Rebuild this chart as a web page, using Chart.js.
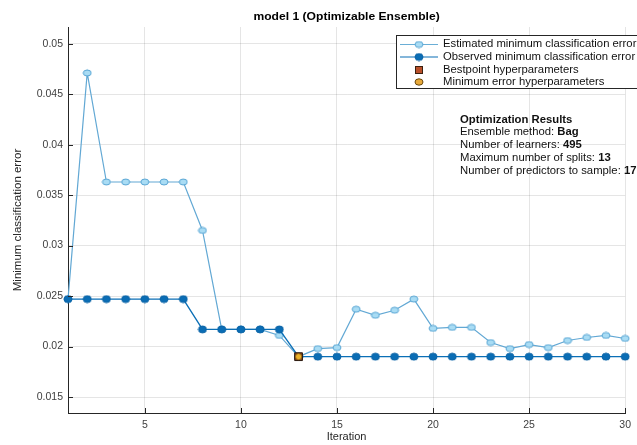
<!DOCTYPE html>
<html>
<head>
<meta charset="utf-8">
<script src="https://cdn.jsdelivr.net/npm/chart.js@4/dist/chart.umd.min.js"></script>
<style>
  body { margin: 0; background: #fff; }
  canvas { display: block; }
</style>
</head>
<body>
<canvas id="myChart" width="637" height="445"></canvas>
<script>
const iterations = [1, 2, 3, 4, 5, 6, 7, 8, 9, 10, 11, 12, 13, 14, 15, 16, 17, 18, 19, 20, 21, 22, 23, 24, 25, 26, 27, 28, 29, 30];
const estimatedMin = [0.0247, 0.0471, 0.0363, 0.0363, 0.0363, 0.0363, 0.0363, 0.0315, 0.0217, 0.0217,
  0.0217, 0.0211, 0.0190, 0.0198, 0.0199, 0.0237, 0.0231, 0.0236, 0.0247, 0.0218,
  0.0219, 0.0219, 0.0204, 0.0198, 0.0202, 0.0199, 0.0206, 0.0209, 0.0211, 0.0208];
const observedMin = [0.0247, 0.0247, 0.0247, 0.0247, 0.0247, 0.0247, 0.0247, 0.0217, 0.0217, 0.0217,
  0.0217, 0.0217, 0.0190, 0.0190, 0.0190, 0.0190, 0.0190, 0.0190, 0.0190, 0.0190,
  0.0190, 0.0190, 0.0190, 0.0190, 0.0190, 0.0190, 0.0190, 0.0190, 0.0190, 0.0190];
const bestPoint = [13, 0.0190];
const minErrorPoint = [13, 0.0190];
const xTicks = [5, 10, 15, 20, 25, 30];
const yTicks = [0.015, 0.02, 0.025, 0.03, 0.035, 0.04, 0.045, 0.05];

const chartTitle = 'model 1 (Optimizable Ensemble)';
const legendLabels = ['Estimated minimum classification error', 'Observed minimum classification error',
  'Bestpoint hyperparameters', 'Minimum error hyperparameters'];
const resultLines = [
  ['Optimization Results', ''],
  ['Ensemble method: ', 'Bag'],
  ['Number of learners: ', '495'],
  ['Maximum number of splits: ', '13'],
  ['Number of predictors to sample: ', '17']
];

const FONT = '"Liberation Sans", Arial, Helvetica, sans-serif';

// elliptical markers, the source picture is stretched a bit sideways
function ellipseMarker(w, h, fill, stroke) {
  const c = document.createElement('canvas');
  c.width = w + 2;
  c.height = h + 2;
  const g = c.getContext('2d');
  g.beginPath();
  g.ellipse(c.width / 2, c.height / 2, w / 2, h / 2, 0, 0, Math.PI * 2);
  g.fillStyle = fill;
  g.fill();
  g.lineWidth = 1;
  g.strokeStyle = stroke;
  g.stroke();
  return c;
}

const lightMarker = ellipseMarker(8, 6, '#a9dcf4', '#5aa6d4');
const darkMarker = ellipseMarker(8, 7, '#0a6db5', '#0a62a5');

const toXY = (xs, ys) => xs.map((x, i) => ({ x: x, y: ys[i] }));

// text drawn a little wider than the font, like the reference
function wideText(ctx, text, x, y, sx) {
  ctx.save();
  ctx.translate(x, y);
  ctx.scale(sx, 1);
  ctx.fillText(text, 0, 0);
  ctx.restore();
  return ctx.measureText(text).width * sx;
}

const extras = {
  id: 'extras',
  afterDraw(chart) {
    const ctx = chart.ctx;
    const area = chart.chartArea;
    const xs = chart.scales.x;
    const ys = chart.scales.y;
    ctx.save();

    // inward tick marks
    ctx.strokeStyle = '#262626';
    ctx.lineWidth = 1;
    ctx.beginPath();
    xTicks.forEach((t) => {
      const px = Math.round(xs.getPixelForValue(t)) + 0.5;
      ctx.moveTo(px, area.bottom);
      ctx.lineTo(px, area.bottom - 5);
    });
    yTicks.forEach((t) => {
      const py = Math.round(ys.getPixelForValue(t)) + 0.5;
      ctx.moveTo(area.left, py);
      ctx.lineTo(area.left + 5, py);
    });
    ctx.stroke();

    // title
    ctx.fillStyle = '#000';
    ctx.font = 'bold 11px ' + FONT;
    ctx.textAlign = 'left';
    ctx.textBaseline = 'middle';
    const tw = ctx.measureText(chartTitle).width * 1.1;
    wideText(ctx, chartTitle, (area.left + area.right) / 2 - tw / 2, 17, 1.1);

    // legend box
    const lx = 396, ly = 35, lw = 250, lh = 53;
    ctx.fillStyle = '#fff';
    ctx.fillRect(lx, ly, lw, lh);
    ctx.strokeStyle = '#262626';
    ctx.strokeRect(lx + 0.5, ly + 0.5, lw, lh);
    const rows = [44.5, 57, 70, 82];
    ctx.font = '10px ' + FONT;
    // line samples
    [['#6aaed6', lightMarker], ['#0b6fb6', darkMarker]].forEach(([col, mk], i) => {
      ctx.strokeStyle = col;
      ctx.lineWidth = 1.2;
      ctx.beginPath();
      ctx.moveTo(400, rows[i]);
      ctx.lineTo(438, rows[i]);
      ctx.stroke();
      ctx.drawImage(mk, 419 - mk.width / 2, rows[i] - mk.height / 2);
    });
    ctx.fillStyle = '#b9502a';
    ctx.strokeStyle = '#3a2010';
    ctx.lineWidth = 1;
    ctx.fillRect(415, rows[2] - 4, 8, 8);
    ctx.strokeRect(415.5, rows[2] - 3.5, 7, 7);
    ctx.beginPath();
    ctx.ellipse(419, rows[3], 4, 3.2, 0, 0, Math.PI * 2);
    ctx.fillStyle = '#e8a93a';
    ctx.fill();
    ctx.strokeStyle = '#6a4a10';
    ctx.stroke();
    ctx.fillStyle = '#111';
    legendLabels.forEach((t, i) => wideText(ctx, t, 443, rows[i], 1.13));

    // optimization results text
    const tops = [120, 132.5, 145, 158, 171];
    resultLines.forEach(([a, b], i) => {
      ctx.font = (i === 0 ? 'bold ' : '') + '10px ' + FONT;
      const w = wideText(ctx, a, 460, tops[i], 1.13);
      if (b) {
        ctx.font = 'bold 10px ' + FONT;
        wideText(ctx, b, 460 + w, tops[i], 1.13);
      }
    });
    ctx.restore();
  }
};

const config = {
  type: 'line',
  data: {
    datasets: [
      {
        label: legendLabels[0],
        data: toXY(iterations, estimatedMin),
        borderColor: '#62a8d4',
        borderWidth: 1.2,
        pointStyle: lightMarker,
        pointRadius: 4,
        tension: 0,
        clip: false,
        order: 4
      },
      {
        label: legendLabels[1],
        data: toXY(iterations, observedMin),
        borderColor: '#0b6fb6',
        borderWidth: 1.4,
        pointStyle: darkMarker,
        pointRadius: 4,
        tension: 0,
        clip: false,
        order: 3
      },
      {
        label: legendLabels[2],
        data: [{ x: bestPoint[0], y: bestPoint[1] }],
        showLine: false,
        pointStyle: 'rect',
        pointRadius: 5.5,
        backgroundColor: '#7a3e1c',
        borderColor: '#2a1a10',
        borderWidth: 1,
        clip: false,
        order: 2
      },
      {
        label: legendLabels[3],
        data: [{ x: minErrorPoint[0], y: minErrorPoint[1] }],
        showLine: false,
        pointStyle: 'circle',
        pointRadius: 3,
        backgroundColor: '#eab02a',
        borderColor: '#9a6a10',
        borderWidth: 0.8,
        clip: false,
        order: 1
      }
    ]
  },
  options: {
    responsive: false,
    animation: false,
    layout: { padding: { top: 27, right: 6, left: 0, bottom: 0 } },
    plugins: {
      legend: { display: false },
      tooltip: { enabled: false }
    },
    scales: {
      x: {
        type: 'linear',
        min: 1,
        max: 30,
        afterBuildTicks: (axis) => { axis.ticks = xTicks.map((v) => ({ value: v })); },
        afterFit: (axis) => { axis.height = 32; },
        grid: { color: 'rgba(0,0,0,0.10)', drawTicks: false },
        border: { color: '#262626', width: 1 },
        ticks: { padding: 6, color: '#404040', font: { family: FONT, size: 10.5 }, maxRotation: 0 },
        title: { display: true, text: 'Iteration', color: '#262626', font: { family: FONT, size: 11 }, padding: { top: 0, bottom: 1 } }
      },
      y: {
        type: 'linear',
        min: 0.01342,
        max: 0.05165,
        afterBuildTicks: (axis) => { axis.ticks = yTicks.map((v) => ({ value: v })); },
        afterFit: (axis) => { axis.width = 68; },
        grid: { color: 'rgba(0,0,0,0.10)', drawTicks: false },
        border: { color: '#262626', width: 1 },
        ticks: { padding: 5, color: '#404040', font: { family: FONT, size: 10.5 }, callback: (v) => String(+v.toFixed(3)) },
        title: { display: true, text: 'Minimum classification error', color: '#262626', font: { family: FONT, size: 11.5 }, padding: { top: 11, bottom: 0 } }
      }
    }
  },
  plugins: [extras]
};

window.onload = () => {
  new Chart(document.getElementById('myChart'), config);
};
</script>
</body>
</html>
